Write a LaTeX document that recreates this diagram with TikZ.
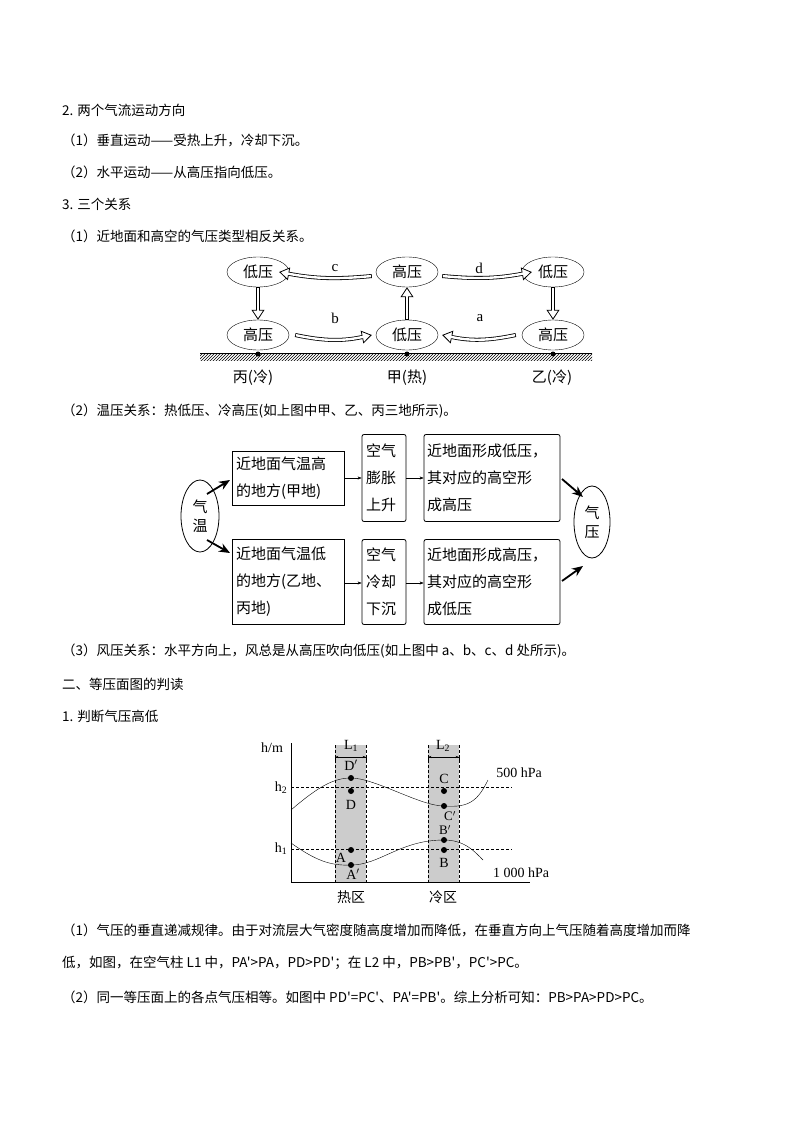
\documentclass[tikz,border=0pt]{standalone}
\usepackage{fontspec}
\setmainfont{Liberation Serif}
\newfontfamily\cjk{Noto Sans CJK SC}
\usetikzlibrary{arrows.meta,patterns,shapes.geometric}
\begin{document}
\begin{tikzpicture}[x=1pt,y=-1pt,
 txt/.style={anchor=west,font=\cjk\fontsize{13.5}{16}\selectfont,inner sep=0},
 ell/.style={draw,ellipse,minimum width=62,minimum height=30,inner sep=0,font=\cjk\fontsize{15}{18}\selectfont},
 lab/.style={font=\fontsize{15}{18}\selectfont,inner sep=0},
 box/.style={draw,thick,align=left,font=\cjk\fontsize{15}{27}\selectfont,inner sep=0},
 dot/.style={circle,fill,inner sep=0,minimum size=6},
 pl/.style={font=\fontsize{14}{16}\selectfont,inner sep=0}]
\useasboundingbox (0,0) rectangle (794,1123);
\fill[white] (0,0) rectangle (794,1123);
% texts
\node[txt] (t1) at (62,110) {2. 两个气流运动方向};
\node[txt] (t2) at (62,140) {（1）垂直运动——受热上升，冷却下沉。};
\node[txt] (t3) at (62,172) {（2）水平运动——从高压指向低压。};
\node[txt] (t4) at (62,204) {3. 三个关系};
\node[txt] (t5) at (62,236) {（1）近地面和高空的气压类型相反关系。};
\node[txt] (t6) at (62,411) {（2）温压关系：热低压、冷高压(如上图中甲、乙、丙三地所示)。};
\node[txt] (t7) at (62,651) {（3）风压关系：水平方向上，风总是从高压吹向低压(如上图中 a、b、c、d 处所示)。};
\node[txt] (t8) at (62,684) {二、等压面图的判读};
\node[txt] (t9) at (62,716) {1. 判断气压高低};
\node[txt] (t10) at (62,930) {（1）气压的垂直递减规律。由于对流层大气密度随高度增加而降低，在垂直方向上气压随着高度增加而降};
\node[txt] (t11) at (62,963) {低，如图，在空气柱 L1 中，PA'>PA，PD>PD'；在 L2 中，PB>PB'，PC'>PC。};
\node[txt] (t12) at (62,997) {（2）同一等压面上的各点气压相等。如图中 PD'=PC'、PA'=PB'。综上分析可知：PB>PA>PD>PC。};
% diagram 1
\node[ell] (e1) at (258,272) {低压};
\node[ell] (e2) at (407,272) {高压};
\node[ell] (e3) at (553,272) {低压};
\node[ell] (e4) at (258,335) {高压};
\node[ell] (e5) at (407,335) {低压};
\node[ell] (e6) at (553,335) {高压};
\fill[pattern=north east lines] (200,353) rectangle (592,360);
\draw[thick] (200,353) -- (592,353);
\node[dot,minimum size=5] (g1) at (258,354) {};
\node[dot,minimum size=5] (g2) at (407,354) {};
\node[dot,minimum size=5] (g3) at (553,354) {};
\node[lab,font=\cjk\fontsize{15}{18}\selectfont] (l1) at (253,378) {丙(冷)};
\node[lab,font=\cjk\fontsize{15}{18}\selectfont] (l2) at (407,378) {甲(热)};
\node[lab,font=\cjk\fontsize{15}{18}\selectfont] (l3) at (552,378) {乙(冷)};
\tikzset{holb/.style={line width=4pt,-{Triangle[length=10pt,width=13pt,open,line width=0.8pt,fill=white]}},
 holw/.style={white,line width=2.4pt,shorten >=9pt,shorten <=0.8pt}}
\foreach \p in {{([xshift=-4pt,yshift=-4pt]e2.west) to[bend left=8] ([xshift=-10pt]e1.east)},
 {([xshift=4pt,yshift=-4pt]e2.east) to[bend right=8] ([xshift=10pt]e3.west)},
 {([xshift=6pt]e4.east) to[bend right=12] ([xshift=-4pt]e5.west)},
 {([xshift=-6pt]e6.west) to[bend left=12] ([xshift=4pt]e5.east)},
 {(e1.south) -- (e4.north)},{(e3.south) -- (e6.north)},{(e5.north) -- (e2.south)}}{
 \draw[holb] \p;
 \draw[holw] \p;}
\node[lab] (lc) at (335,268) {c};
\node[lab] (ld) at (479,268) {d};
\node[lab] (lb) at (335,318) {b};
\node[lab] (la) at (480,318) {a};
% flowchart
\node[box,minimum width=112,minimum height=54,text width=104] (b1) at (288,478) {近地面气温高\\的地方(甲地)};
\node[box,minimum width=112,minimum height=85,text width=104] (b2) at (288,582) {近地面气温低\\的地方(乙地、\\丙地)};
\node[box,rounded corners=2pt,minimum width=44,minimum height=87,text width=36] (b3) at (384,478) {空气\\膨胀\\上升};
\node[box,rounded corners=2pt,minimum width=44,minimum height=85,text width=36] (b4) at (384,582) {空气\\冷却\\下沉};
\node[box,rounded corners=2pt,minimum width=136,minimum height=87,text width=130] (b5) at (492,478) {近地面形成低压，\\其对应的高空形\\成高压};
\node[box,rounded corners=2pt,minimum width=136,minimum height=85,text width=130] (b6) at (492,582) {近地面形成高压，\\其对应的高空形\\成低压};
\node[draw,thick,ellipse,minimum width=38,minimum height=72,inner sep=0,align=center,font=\cjk\fontsize{15}{19}\selectfont] (q1) at (200,516) {气\\温};
\node[draw,thick,ellipse,minimum width=36,minimum height=72,inner sep=0,align=center,font=\cjk\fontsize{15}{19}\selectfont] (q2) at (592,522) {气\\压};
\coordinate (f1) at (207,494); \coordinate (f2) at (230,480);
\coordinate (f3) at (207,540); \coordinate (f4) at (230,553);
\coordinate (f5) at (562,479); \coordinate (f6) at (583,497);
\coordinate (f7) at (562,581); \coordinate (f8) at (583,566);
\tikzset{fat/.style={line width=1.8pt,-{Stealth[length=11pt,width=9pt]}},tarr/.style={-{Stealth[length=4pt,width=3pt]}}}
\draw[fat] (f1) -- (f2);
\draw[fat] (f3) -- (f4);
\draw[fat] (f5) -- (f6);
\draw[fat] (f7) -- (f8);
\draw[tarr] (b1.east) -- (b3.west);
\draw[tarr] ([yshift=-1pt]b2.east) -- ([yshift=-1pt]b4.west);
\draw[tarr] (b3.east) -- (b5.west);
\draw[tarr] ([yshift=-1pt]b4.east) -- ([yshift=-1pt]b6.west);
% isobar chart
\fill[gray!40] (335,745) rectangle (366,882);
\fill[gray!40] (428,745) rectangle (459,882);
\draw[densely dashed] (335,745) -- (335,882) (366,745) -- (366,882) (428,745) -- (428,882) (459,745) -- (459,882);
\draw[densely dashed] (291,787) -- (512,787) (291,849) -- (512,849);
\draw (291,743) -- (291,882) -- (530,882);
\draw[{Bar[width=5pt]Stealth[length=3pt]}-{Stealth[length=3pt]Bar[width=5pt]}] (335,757) -- (366,757);
\draw[{Bar[width=5pt]Stealth[length=3pt]}-{Stealth[length=3pt]Bar[width=5pt]}] (428,757) -- (459,757);
\node[pl] (L1) at (351,746) {L\textsubscript{1}};
\node[pl] (L2) at (443,746) {L\textsubscript{2}};
\node[pl] (hm) at (272,748) {h/m};
\node[pl] (h2) at (281,788) {h\textsubscript{2}};
\node[pl] (h1) at (281,849) {h\textsubscript{1}};
\coordinate (p0) at (291,810);
\node[dot] (Dp) at (351,778) {};
\node[dot] (D0) at (351,791) {};
\node[dot] (A0) at (351,850) {};
\node[dot] (Ap) at (351,865) {};
\node[dot] (C0) at (444,791) {};
\node[dot] (Cp) at (444,806) {};
\node[dot] (Bp) at (444,840) {};
\node[dot] (B0) at (444,850) {};
\draw (p0) .. controls (320,785) and (335,778) .. (Dp.center)
 .. controls (375,778) and (420,806) .. (Cp.center)
 .. controls (470,808) and (478,800) .. (488,780);
\draw (291,843) .. controls (315,860) and (330,866) .. (Ap.center)
 .. controls (380,865) and (400,840) .. (Bp.center)
 .. controls (465,840) and (475,852) .. (483,860);
\node[pl] at (351,765) {D$'$};
\node[pl] at (351,805) {D};
\node[pl] at (341,858) {A};
\node[pl] at (353,874) {A$'$};
\node[pl] at (444,779) {C};
\node[pl,font=\fontsize{13}{14}\selectfont] at (450,816) {C$'$};
\node[pl,font=\fontsize{13}{14}\selectfont] at (445,830) {B$'$};
\node[pl] at (444,863) {B};
\node[pl] at (519,773) {500 hPa};
\node[pl] at (521,873) {1 000 hPa};
\node[lab,font=\cjk\fontsize{14}{16}\selectfont] at (351,897) {热区};
\node[lab,font=\cjk\fontsize{14}{16}\selectfont] at (443,897) {冷区};
\end{tikzpicture}
\end{document}
